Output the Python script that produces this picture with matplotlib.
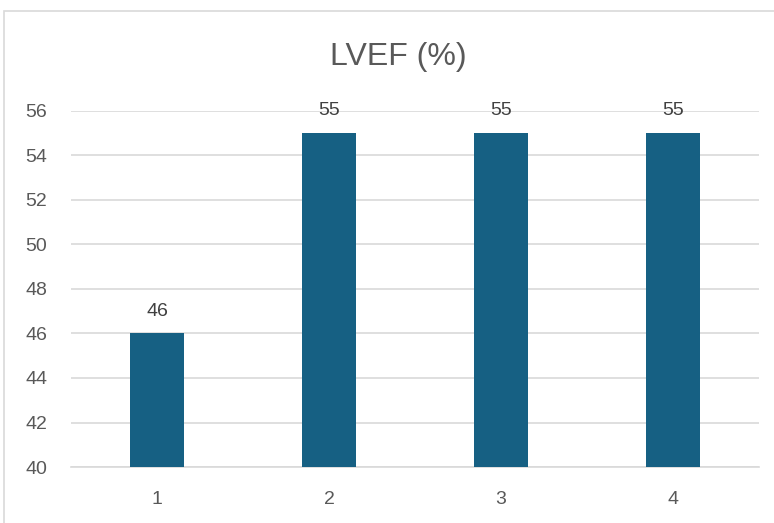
import matplotlib.pyplot as plt
from matplotlib.patches import Rectangle

# LVEF values per visit
categories = ["1", "2", "3", "4"]
lvef = [46, 55, 55, 55]
yticks = [40, 42, 44, 46, 48, 50, 52, 54, 56]

plt.rcParams["font.family"] = ["Liberation Sans", "DejaVu Sans"]
text_color = "#595959"
bar_color = "#166083"
grid_color = "#D9D9D9"

fig = plt.figure(figsize=(7.74, 5.23), dpi=100)
ax = fig.add_axes([0.0917, 0.107, 0.889, 0.681])

# light chart-area border (only top and left edges visible)
fig.patches.append(Rectangle((4 / 774, -0.05), 1.1, 0.979 + 0.05,
                             transform=fig.transFigure, fill=False,
                             edgecolor=grid_color, linewidth=1.2))

x = range(len(categories))
bars = ax.bar(x, lvef, width=0.31, color=bar_color, zorder=3)

for xi, v in zip(x, lvef):
    ax.annotate(str(v), (xi, v), xytext=(0, 10), textcoords="offset points",
                ha="center", va="bottom", fontsize=14, color="#404040")

ax.set_ylim(40, 56)
ax.set_xlim(-0.5, len(categories) - 0.5)
ax.set_yticks(yticks)
ax.set_xticks(list(x))
ax.set_xticklabels(categories)
ax.yaxis.grid(True, color=grid_color, linewidth=1.2, zorder=0)
ax.set_axisbelow(True)

for s in ["top", "right", "left"]:
    ax.spines[s].set_visible(False)
ax.spines["bottom"].set_color(grid_color)
ax.spines["bottom"].set_linewidth(1.2)

ax.tick_params(axis="both", length=0, labelsize=14, colors=text_color)
ax.tick_params(axis="y", pad=17)
ax.tick_params(axis="x", pad=17)

fig.text(398 / 774, 1 - 57 / 523, "LVEF (%)", ha="center", va="center",
         fontsize=23, color=text_color)

fig.savefig("out.png", dpi=100)
